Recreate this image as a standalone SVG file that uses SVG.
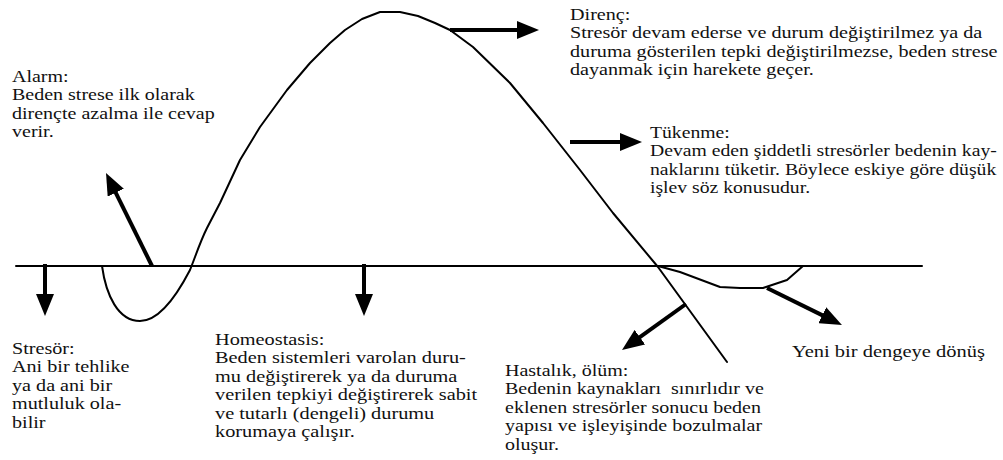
<svg xmlns="http://www.w3.org/2000/svg" width="1003" height="460" viewBox="0 0 1003 460">
<style>
.t text{font-family:'Liberation Serif','Times New Roman','DejaVu Serif',serif;font-size:16px;fill:#111}
.ln{fill:none;stroke:#000;stroke-width:2;stroke-linejoin:round;stroke-linecap:round}
.ar{fill:none;stroke:#000;stroke-width:4;marker-end:url(#ah)}
</style>
<defs>
<marker id="ah" markerUnits="userSpaceOnUse" markerWidth="22" markerHeight="18" viewBox="0 0 22 18" refX="6" refY="9" orient="auto">
<path d="M0,0 L22,9 L0,18 z" fill="#000"/>
</marker>
</defs>
<rect width="1003" height="460" fill="#fff"/>
<g id="connectors">
<line class="ln" x1="16" y1="266" x2="922" y2="266"/>
<path class="ln" d="M102,266 C106,295 118,321 140,321 C160,321 177,295 190,270 C196,255 200,242 207,228 L220,203 L240,160 L260,127 L287,90 L310,63 L330,43 L345,30 L362,19 L380,12 L400,12 L418,16 L435,23 L450,30 L473,47 L510,83 L543,123 L580,170 L613,213 L658,267 L727,362"/>
<polyline class="ln" points="658,266 680,272 720,287 740,288 763,288 787,280 803,266"/>
<line class="ar" x1="450" y1="30" x2="523" y2="30"/>
<line class="ar" x1="570" y1="142" x2="626" y2="142"/>
<line class="ar" x1="45" y1="264" x2="45" y2="300"/>
<line class="ar" x1="364" y1="264" x2="364" y2="300"/>
<line class="ar" x1="152" y1="266" x2="113.1" y2="187.3"/>
<line class="ar" x1="686" y1="304" x2="635" y2="340.7"/>
<line class="ar" x1="767" y1="288" x2="827.6" y2="317.9"/>
</g>
<g id="alarm" class="t" font-family="Liberation Serif, serif" transform="translate(12,0) scale(1.25,1)">
<text x="0" y="82">Alarm:</text>
<text x="0" y="100.5">Beden strese ilk olarak</text>
<text x="0" y="119">dirençte azalma ile cevap</text>
<text x="0" y="137.5">verir.</text>
</g>
<g id="direnc" class="t" font-family="Liberation Serif, serif" transform="translate(570,0) scale(1.26,1)">
<text x="0" y="20">Direnç:</text>
<text x="0" y="38.5">Stresör devam ederse ve durum değiştirilmez ya da</text>
<text x="0" y="57">duruma gösterilen tepki değiştirilmezse, beden strese</text>
<text x="0" y="75.5">dayanmak için harekete geçer.</text>
</g>
<g id="tukenme" class="t" font-family="Liberation Serif, serif" transform="translate(650,0) scale(1.23,1)">
<text x="0" y="138">Tükenme:</text>
<text x="0" y="156.5">Devam eden şiddetli stresörler bedenin kay-</text>
<text x="0" y="175">naklarını tüketir. Böylece eskiye göre düşük</text>
<text x="0" y="193.5">işlev söz konusudur.</text>
</g>
<g id="stresor" class="t" font-family="Liberation Serif, serif" transform="translate(12,0) scale(1.26,1)">
<text x="0" y="354">Stresör:</text>
<text x="0" y="372.5">Ani bir tehlike</text>
<text x="0" y="391">ya da ani bir</text>
<text x="0" y="409.5">mutluluk ola-</text>
<text x="0" y="428">bilir</text>
</g>
<g id="homeostasis" class="t" font-family="Liberation Serif, serif" transform="translate(215,0) scale(1.27,1)">
<text x="0" y="345">Homeostasis:</text>
<text x="0" y="363.5">Beden sistemleri varolan duru-</text>
<text x="0" y="382">mu değiştirerek ya da duruma</text>
<text x="0" y="400.5">verilen tepkiyi değiştirerek sabit</text>
<text x="0" y="419">ve tutarlı (dengeli) durumu</text>
<text x="0" y="437.5">korumaya çalışır.</text>
</g>
<g id="hastalik" class="t" font-family="Liberation Serif, serif" transform="translate(505,0) scale(1.25,1)">
<text x="0" y="376">Hastalık, ölüm:</text>
<text x="0" y="394.5" xml:space="preserve">Bedenin kaynakları  sınırlıdır ve</text>
<text x="0" y="413">eklenen stresörler sonucu beden</text>
<text x="0" y="431.5">yapısı ve işleyişinde bozulmalar</text>
<text x="0" y="450">oluşur.</text>
</g>
<g id="yeni" class="t" font-family="Liberation Serif, serif" transform="translate(792,0) scale(1.28,1)">
<text x="0" y="357">Yeni bir dengeye dönüş</text>
</g>
</svg>
